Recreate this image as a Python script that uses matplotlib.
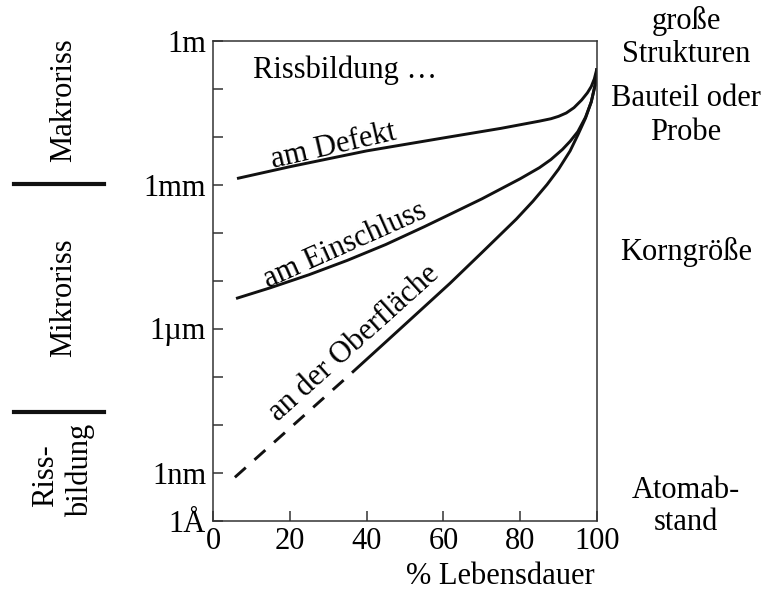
import numpy as np
import matplotlib
matplotlib.use("Agg")
import matplotlib.pyplot as plt
from matplotlib.ticker import FixedLocator, FixedFormatter

# ---- data (x: % Lebensdauer, y: log10 of crack length in m) ----
defekt_x = [6.25, 20, 40, 60, 75, 85, 88, 90, 92, 94, 96, 97.5, 98.5, 99.3, 100]
defekt_log = [-2.875, -2.63, -2.30, -2.03, -1.83, -1.68, -1.63, -1.58, -1.51, -1.40,
              -1.24, -1.09, -0.96, -0.80, -0.58]

einschluss_x = [6, 15, 25, 35, 45, 55, 62, 70, 80, 85, 88, 91, 93, 95, 97, 98.5, 99.5, 100]
einschluss_log = [-5.375, -5.15, -4.88, -4.58, -4.25, -3.88, -3.61, -3.30, -2.88, -2.65,
                  -2.48, -2.27, -2.10, -1.90, -1.60, -1.28, -0.93, -0.58]

oberflaeche_dash_x = [5.7, 36.2]
oberflaeche_dash_log = [-9.1, -6.92]
oberflaeche_x = [36.2, 45, 55, 61.7, 70, 79, 83.3, 87, 90, 93, 95, 97, 98.5, 99.5, 100]
oberflaeche_log = [-6.92, -6.28, -5.55, -5.06, -4.42, -3.72, -3.35, -3.00, -2.68, -2.30,
                   -1.97, -1.62, -1.28, -0.93, -0.58]

y_tick_exps = list(range(-10, 1))
y_label_vals = {0: "1m", -3: "1mm", -6: "1µm", -9: "1nm", -10: "1Å"}
x_ticks = [0, 20, 40, 60, 80, 100]
x_tick_labels = ["0", "20", "40", "60", "80", "100"]

plt.rcParams['font.family'] = ['Liberation Serif', 'DejaVu Serif']
FS = 22

W, H = 774, 590
fig = plt.figure(figsize=(W / 100, H / 100), dpi=100)
L, R, T, B = 213, 597, 40.5, 520.5
ax = fig.add_axes([L / W, 1 - B / H, (R - L) / W, (B - T) / H])

lw = 2.1
kw = dict(color="#111111", lw=lw, solid_capstyle="butt", solid_joinstyle="round")
ax.plot(defekt_x, [10.0 ** v for v in defekt_log], **kw)
ax.plot(einschluss_x, [10.0 ** v for v in einschluss_log], **kw)
ax.plot(oberflaeche_x, [10.0 ** v for v in oberflaeche_log], **kw)
ax.plot(oberflaeche_dash_x, [10.0 ** v for v in oberflaeche_dash_log], color="#111111", lw=lw,
        linestyle=(0, (5, 4)), dash_capstyle="butt")

ax.set_yscale("log")
ax.set_ylim(1e-10, 1)
ax.set_xlim(0, 100)

yt = [10.0 ** e for e in y_tick_exps]
ax.yaxis.set_major_locator(FixedLocator(yt))
ax.yaxis.set_major_formatter(FixedFormatter([y_label_vals.get(e, "") for e in y_tick_exps]))
ax.yaxis.set_minor_locator(FixedLocator([]))
ax.xaxis.set_major_locator(FixedLocator(x_ticks))
ax.xaxis.set_major_formatter(FixedFormatter(x_tick_labels))

ax.tick_params(axis="both", direction="in", length=7, width=1.1, color="#333333",
               labelsize=FS, pad=5)
for s in ax.spines.values():
    s.set_linewidth(1.1)
    s.set_color("#333333")

def px2data(px, py):
    x = (px - L) / (R - L) * 100
    lg = -(py - T) / (B - T) * 10
    return x, 10.0 ** lg

# annotations inside the plot
x0, y0 = px2data(253, 70)
ax.text(x0, y0, "Rissbildung …", fontsize=FS, ha="left", va="center")
x0, y0 = px2data(334, 146)
ax.text(x0, y0, "am Defekt", fontsize=FS, ha="center", va="center", rotation=13, rotation_mode="anchor")
x0, y0 = px2data(345, 245)
ax.text(x0, y0, "am Einschluss", fontsize=FS, ha="center", va="center", rotation=24, rotation_mode="anchor")
x0, y0 = px2data(354, 343)
ax.text(x0, y0, "an der Oberfläche", fontsize=FS, ha="center", va="center", rotation=42, rotation_mode="anchor")

def ftext(px, py, s, **kw):
    fig.text(px / W, 1 - py / H, s, fontsize=FS, **kw)

# x label
ftext(500, 577, "% Lebensdauer", ha="center", va="center")

# right side texts
ftext(686, 21, "große", ha="center", va="center")
ftext(686, 55, "Strukturen", ha="center", va="center")
ftext(686, 99, "Bauteil oder", ha="center", va="center")
ftext(686, 132, "Probe", ha="center", va="center")
ftext(686, 252, "Korngröße", ha="center", va="center")
ftext(686, 490, "Atomab-", ha="center", va="center")
ftext(686, 522, "stand", ha="center", va="center")

# left side region labels
ftext(64, 100, "Makroriss", ha="center", va="center", rotation=90)
ftext(64, 298, "Mikroriss", ha="center", va="center", rotation=90)
ftext(46, 476, "Riss-", ha="center", va="center", rotation=90)
ftext(80, 470, "bildung", ha="center", va="center", rotation=90)

for yb in (184, 412):
    fig.add_artist(plt.Line2D([14 / W, 104 / W], [1 - yb / H, 1 - yb / H],
                              color="#111111", lw=3.0, transform=fig.transFigure))

fig.savefig("out.png", dpi=100)
